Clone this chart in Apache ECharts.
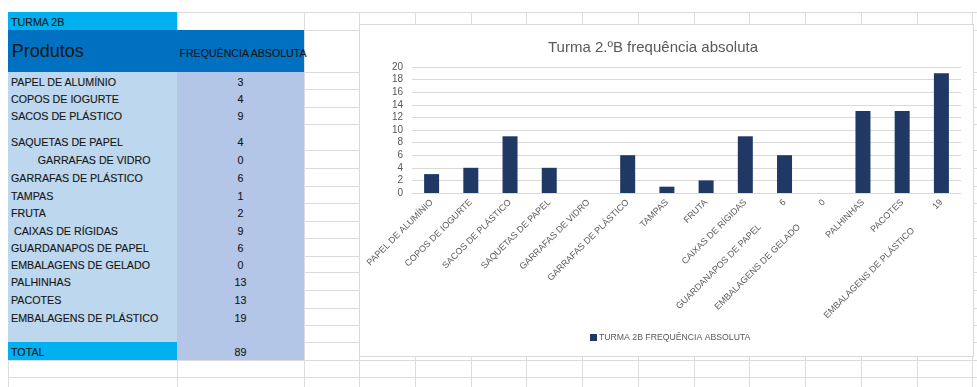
<!DOCTYPE html>
<html>
<head>
<meta charset="utf-8">
<script src="https://cdn.jsdelivr.net/npm/echarts@6/dist/echarts.min.js"></script>
<style>
  body { margin: 0; width: 977px; height: 387px; overflow: hidden; background: #fff; position: relative;
         font-family: 'Liberation Sans', Arial, sans-serif; }
  .gl { position: absolute; background: #dcdcdc; }
  .fill { position: absolute; }
  .cell { position: absolute; box-sizing: border-box; color: #161616; font-size: 10.7px; line-height: 10.7px;
          white-space: pre; display: flex; align-items: flex-end; padding-bottom: 2px;
          -webkit-text-stroke: 0.12px #161616; }
  .num { justify-content: center; }
  #chart { position: absolute; left: 359px; top: 24px; width: 615px; height: 333px;
           border: 1px solid #d9d9d9; box-sizing: border-box; background: #fff; }
</style>
</head>
<body>
<div id="sheet"></div>
<div id="chart"></div>
<script>
// dados da tabela / grafico
const produtos = ['PAPEL DE ALUMÍNIO', 'COPOS DE IOGURTE', 'SACOS DE PLÁSTICO', 'SAQUETAS DE PAPEL',
  'GARRAFAS DE VIDRO', 'GARRAFAS DE PLÁSTICO', 'TAMPAS', 'FRUTA', 'CAIXAS DE RÍGIDAS',
  'GUARDANAPOS DE PAPEL', 'EMBALAGENS DE GELADO', 'PALHINHAS', 'PACOTES', 'EMBALAGENS DE PLÁSTICO']
const frequencias = [3, 4, 9, 4, 0, 6, 1, 2, 9, 6, 0, 13, 13, 19]
const total = 89
// o eixo do excel mostra um segundo texto em alguns rotulos
const rotuloExtra = ['', '', '', '', '', '', '', '', '', '6', '0', '', '', '19']
// indentacao como aparece nas celulas
const indentacao = ['', '', '', '', '         ', '', '', '', ' ', '', '', '', '', '']

// --- folha de calculo (layout) ---
const rowLines = [12.3, 30, 71.7, 89.3, 106.7, 124, 150, 167.7, 186, 203.3, 220.7, 238.3, 256, 272.3,
  290, 307.7, 325.3, 342.3, 360, 377.3]
const colLines = [8.3, 177.3, 303.7]
for (let k = 0; k < 12; k++) colLines.push(359 + 55.75 * k)

const sheet = document.getElementById('sheet')
function box(cls, x, y, w, h, bg) {
  const d = document.createElement('div')
  d.className = cls
  d.style.left = x + 'px'; d.style.top = y + 'px'
  d.style.width = w + 'px'; d.style.height = h + 'px'
  if (bg) d.style.background = bg
  sheet.appendChild(d)
  return d
}
rowLines.forEach(y => box('gl', 8, y, 977 - 8, 1))
colLines.forEach(x => box('gl', x, 12.3, 1, 387 - 12.3))

const xA = 8.3, xB = 177.3, xC = 303.7
box('fill', xA, 12.3, xB - xA, 30 - 12.3, '#00b0f0')
box('fill', xA, 30, xC - xA, 71.7 - 30, '#0070c0')
box('fill', xA, 71.7, xB - xA, 342.3 - 71.7, '#bdd7ee')
box('fill', xB, 71.7, xC - xB, 360 - 71.7, '#b4c6e7')
box('fill', xA, 342.3, xB - xA, 360 - 342.3, '#00b0f0')

function texto(txt, x, y, w, h, cls, extra) {
  const d = box('cell' + (cls ? ' ' + cls : ''), x, y, w, h)
  d.textContent = txt
  if (extra) Object.assign(d.style, extra)
  return d
}
texto('TURMA 2B', xA + 2.7, 12.3, 160, 17.7)
texto('Produtos', xA + 3.5, 30, 160, 41.7, '', { fontSize: '18px', lineHeight: '18px', alignItems: 'center', paddingBottom: '0', webkitTextStroke: '0' })
texto('FREQUÊNCIA ABSOLUTA', xB - 20, 30, xC - xB + 45, 41.7, 'num', { fontSize: '10.6px', alignItems: 'center', paddingBottom: '0', paddingTop: '5px' })
produtos.forEach((p, i) => {
  const y0 = rowLines[2 + i], y1 = rowLines[3 + i]
  texto(indentacao[i] + p, xA + 2.7, y0, 170, y1 - y0)
  texto(String(frequencias[i]), xB, y0, xC - xB, y1 - y0, 'num')
})
texto('TOTAL', xA + 2.7, 342.3, 160, 17.7)
texto(String(total), xB, 342.3, xC - xB, 17.7, 'num')

// --- grafico ---
const chart = echarts.init(document.getElementById('chart'))
chart.setOption({
  animation: false,
  textStyle: { fontFamily: 'Liberation Sans' },
  title: {
    text: 'Turma 2.ºB frequência absoluta',
    left: 188, top: 15, padding: 0,
    textStyle: { fontSize: 15, fontWeight: 'normal', color: '#595959' }
  },
  legend: {
    data: ['TURMA 2B FREQUÊNCIA ABSOLUTA'],
    left: 230, top: 308, padding: 0,
    icon: 'rect', itemWidth: 7, itemHeight: 7,
    textStyle: { fontSize: 8.7, color: '#595959', padding: [0, 0, 0, -3] }
  },
  grid: { left: 52, right: 12, top: 42, bottom: 163 },
  xAxis: {
    type: 'category',
    data: produtos,
    axisLine: { lineStyle: { color: '#d9d9d9' } },
    axisTick: { show: false },
    axisLabel: {
      interval: 0, rotate: 45, margin: 8, fontSize: 9, color: '#595959',
      formatter: (v, i) => rotuloExtra[i] ? '{t|' + v + '}{g|}{t|' + rotuloExtra[i] + '}' : v,
      rich: {
        t: { fontSize: 9, color: '#595959', fontFamily: 'Liberation Sans' },
        g: { width: 30 }
      }
    }
  },
  yAxis: {
    type: 'value', min: 0, max: 20, interval: 2,
    axisLine: { show: false }, axisTick: { show: false },
    axisLabel: { fontSize: 10, color: '#595959', margin: 9 },
    splitLine: { lineStyle: { color: '#d9d9d9' } }
  },
  series: [{
    name: 'TURMA 2B FREQUÊNCIA ABSOLUTA',
    type: 'bar',
    data: frequencias,
    barWidth: 15,
    itemStyle: { color: '#203864' }
  }]
})
</script>
</body>
</html>
